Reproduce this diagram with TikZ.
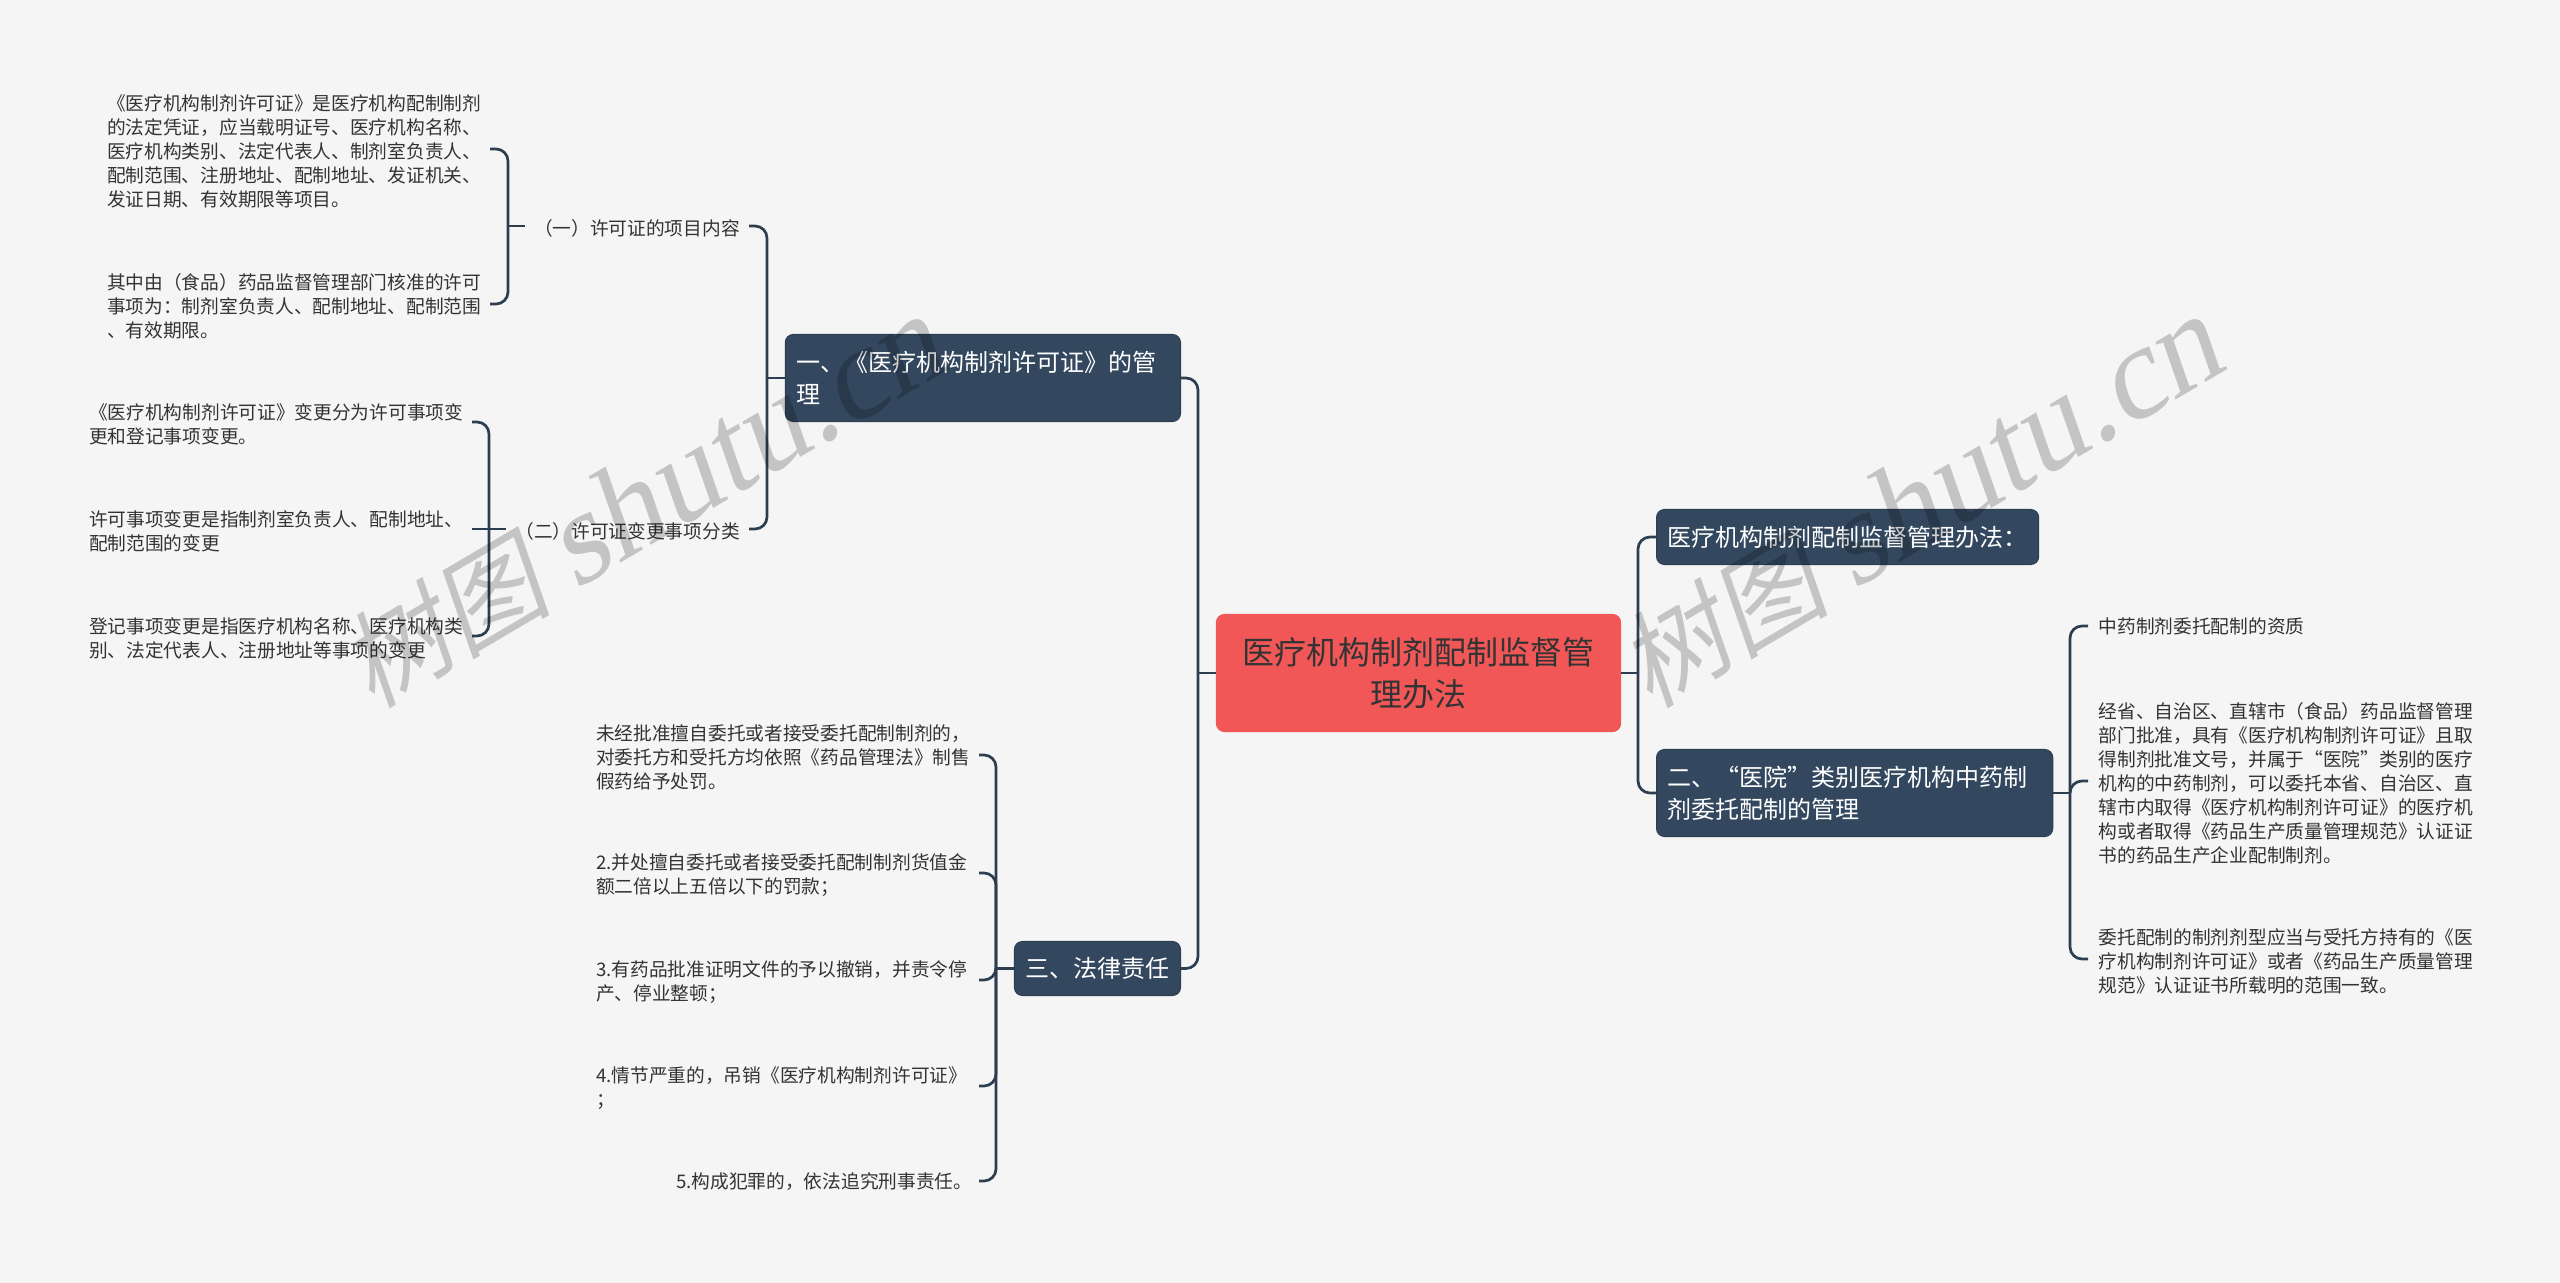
\documentclass[tikz,border=0pt]{standalone}
\usepackage{fontspec}
\setmainfont{Noto Sans CJK SC}
\newfontfamily\wmcjk[FakeSlant=0.2]{Noto Sans CJK SC}
\newfontfamily\wmlatin[FakeSlant=0.2]{Liberation Serif}
\newcommand{\wmtext}{{\wmcjk 树图}\hspace{.24cm}{\fontsize{37pt}{38pt}\wmlatin shutu.cn}}
\definecolor{pagebg}{HTML}{F5F5F5}
\definecolor{linkcol}{HTML}{2C3E50}
\definecolor{boxcol}{HTML}{33485F}
\definecolor{rootcol}{HTML}{F15757}
\definecolor{txtcol}{HTML}{333333}
\definecolor{wmcol}{HTML}{CDCDCD}
\tikzset{
	link/.style={color=linkcol, line width=.027cm},
	elbow/.style={link, rounded corners=.12cm},
	leaf/.style={font=\fontsize{5.32pt}{6.83pt}\selectfont, color=txtcol, inner xsep=.09cm, inner ysep=0pt, text width=3.73cm, align=left, execute at end node={\par\vspace*{-.04cm}}},
	leafr/.style={leaf, inner xsep=.1cm, anchor=west},
	leafl/.style={leaf, anchor=east},
	subhead/.style={font=\fontsize{5.32pt}{6.83pt}\selectfont, color=txtcol, inner xsep=.085cm, inner ysep=0pt, text height=.24cm, text depth=.04cm},
	mainbox/.style={font=\fontsize{6.83pt}{9.1pt}\selectfont, color=white, fill=boxcol, draw=linkcol, line width=.01cm, rounded corners=.08cm, inner xsep=.11cm, inner ysep=0pt, align=left},
	rootbox/.style={font=\fontsize{9.1pt}{11.95pt}\selectfont, color=txtcol, fill=rootcol, draw=rootcol, line width=.01cm, rounded corners=.08cm, inner sep=0pt, align=center, minimum width=4.04cm, minimum height=1.17cm},
	wmark/.style={font=\fontsize{30pt}{31pt}\selectfont, color=wmcol, rotate=30.5, anchor=base west, inner sep=0pt}
}
\begin{document}
\begin{tikzpicture}[x=.01cm, y=-.01cm]
	\fill[pagebg] (0,0) rectangle (2560,1283);
	\useasboundingbox (0,0) rectangle (2560,1283);

	% centre and main branches
	\node[rootbox] (root) at (1418.5,673) {医疗机构制剂配制监督管\\理办法};
	\node[mainbox, text width=3.73cm, minimum height=.87cm, anchor=east] (lic) at (1181,378) {一、《医疗机构制剂许可证》的管\\理};
	\node[mainbox, text width=1.44cm, minimum height=.54cm, anchor=east] (law) at (1181,968.5) {三、法律责任};
	\node[mainbox, text width=3.6cm, minimum height=.55cm, anchor=west] (rule) at (1656,537) {医疗机构制剂配制监督管理办法：};
	\node[mainbox, text width=3.74cm, minimum height=.87cm, anchor=west] (hosp) at (1656,793) {二、“医院”类别医疗机构中药制\\剂委托配制的管理};

	% left side, upper part
	\node[subhead, anchor=east] (item) at (749,226) {（一）许可证的项目内容};
	\node[subhead, anchor=east] (change) at (749,529) {（二）许可证变更事项分类};
	\node[leafl] (a1) at (490,149) {《医疗机构制剂许可证》是医疗机构配制制剂\\的法定凭证，应当载明证号、医疗机构名称、\\医疗机构类别、法定代表人、制剂室负责人、\\配制范围、注册地址、配制地址、发证机关、\\发证日期、有效期限等项目。};
	\node[leafl] (a2) at (490,304) {其中由（食品）药品监督管理部门核准的许可\\事项为：制剂室负责人、配制地址、配制范围\\、有效期限。};
	\node[leafl] (b1) at (472,422) {《医疗机构制剂许可证》变更分为许可事项变\\更和登记事项变更。};
	\node[leafl] (b2) at (472,529) {许可事项变更是指制剂室负责人、配制地址、\\配制范围的变更};
	\node[leafl] (b3) at (472,636) {登记事项变更是指医疗机构名称、医疗机构类\\别、法定代表人、注册地址等事项的变更};

	% left side, lower part
	\node[leafl] (c1) at (979,755) {未经批准擅自委托或者接受委托配制制剂的，\\对委托方和受托方均依照《药品管理法》制售\\假药给予处罚。};
	\node[leafl] (c2) at (979,873) {2.并处擅自委托或者接受委托配制制剂货值金\\额二倍以上五倍以下的罚款；};
	\node[leafl] (c3) at (979,980) {3.有药品批准证明文件的予以撤销，并责令停\\产、停业整顿；};
	\node[leafl] (c4) at (979,1086) {4.情节严重的，吊销《医疗机构制剂许可证》\\；};
	\node[leafl, align=right, inner xsep=.06cm] (c5) at (979,1181) {5.构成犯罪的，依法追究刑事责任。};

	% right side
	\node[leafr] (r1) at (2088,626) {中药制剂委托配制的资质};
	\node[leafr] (r2) at (2088,781) {经省、自治区、直辖市（食品）药品监督管理\\部门批准，具有《医疗机构制剂许可证》且取\\得制剂批准文号，并属于“医院”类别的医疗\\机构的中药制剂，可以委托本省、自治区、直\\辖市内取得《医疗机构制剂许可证》的医疗机\\构或者取得《药品生产质量管理规范》认证证\\书的药品生产企业配制制剂。};
	\node[leafr] (r3) at (2088,959) {委托配制的制剂剂型应当与受托方持有的《医\\疗机构制剂许可证》或者《药品生产质量管理\\规范》认证证书所载明的范围一致。};

	% trunks
	\coordinate (troot) at (1198,0);
	\coordinate (tlic) at (767,0);
	\coordinate (titem) at (508,0);
	\coordinate (tchange) at (489,0);
	\coordinate (tlaw) at (996,0);
	\coordinate (tright) at (1638,0);
	\coordinate (thosp) at (2070,0);

	% connectors
	\draw[link] (root.west) -- (troot |- root.west);
	\foreach \kid in {lic,law}
		\draw[elbow] (troot |- root.west) -- (troot |- \kid.east) -- (\kid.east);
	\draw[link] (lic.west) -- (tlic |- lic.west);
	\foreach \kid in {item,change}
		\draw[elbow] (tlic |- lic.west) -- (tlic |- \kid.east) -- (\kid.east);
	\draw[link] (item.west) -- (titem |- item.west);
	\foreach \kid in {a1,a2}
		\draw[elbow] (titem |- item.west) -- (titem |- \kid.east) -- (\kid.east);
	\draw[link] (change.west) -- (b2.east);
	\foreach \kid in {b1,b3}
		\draw[elbow] (tchange |- change.west) -- (tchange |- \kid.east) -- (\kid.east);
	\draw[link] (law.west) -- (tlaw |- law.west);
	\foreach \kid in {c1,c2,c3,c4,c5}
		\draw[elbow] (tlaw |- law.west) -- (tlaw |- \kid.east) -- (\kid.east);
	\draw[link] (root.east) -- (tright |- root.east);
	\foreach \kid in {rule,hosp}
		\draw[elbow] (tright |- root.east) -- (tright |- \kid.west) -- (\kid.west);
	\draw[link] (hosp.east) -- (thosp |- hosp.east);
	\foreach \kid in {r1,r2,r3}
		\draw[elbow] (thosp |- hosp.east) -- (thosp |- \kid.west) -- (\kid.west);

	% watermarks
	\begin{scope}[blend mode=multiply]
		\node[wmark] (wm1) at (372,710) {\wmtext};
		\node[wmark] (wm2) at (1650,710) {\wmtext};
	\end{scope}
\end{tikzpicture}
\end{document}
